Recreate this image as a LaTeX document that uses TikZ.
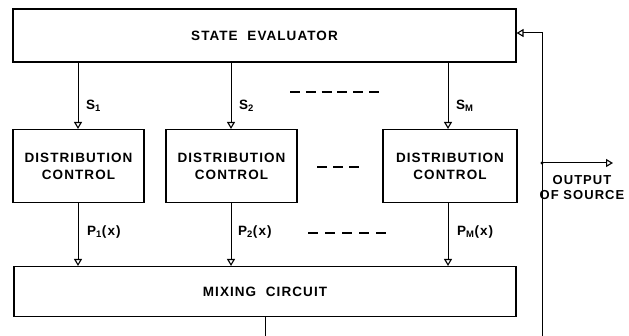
\documentclass[tikz,border=0pt]{standalone}
\usepackage{fontspec}
\newfontfamily\lett{Liberation Sans}[LetterSpace=8]
\usetikzlibrary{arrows.meta}
\tikzset{
  blk/.style={draw, line width=1.1pt, inner sep=0pt, align=center},
  sig/.style={line width=1pt, -{Triangle[open, length=7pt, width=8pt, line width=1.1pt]}},
  wire/.style={line width=1pt},
  lbl/.style={anchor=west, inner sep=0pt},
  dsh/.style={line width=1.1pt},
}
\begin{document}
\begin{tikzpicture}[x=1pt, y=-1pt, font=\lett\bfseries\fontsize{13.5}{17}\selectfont]
\useasboundingbox (0,0) rectangle (629,336);
% blocks
\node[blk, minimum width=503pt, minimum height=53pt] (se) at (264.5,35.5) {STATE\ \ EVALUATOR};
\node[blk, minimum width=131pt, minimum height=73pt] (dc1) at (78.5,166) {DISTRIBUTION\\CONTROL};
\node[blk, minimum width=131pt, minimum height=73pt] (dc2) at (231.5,166) {DISTRIBUTION\\CONTROL};
\node[blk, minimum width=134pt, minimum height=73pt] (dc3) at (450,166) {DISTRIBUTION\\CONTROL};
\node[blk, minimum width=502pt, minimum height=50pt] (mix) at (265,291.5) {MIXING\ \ CIRCUIT};
% line positions
\coordinate (s1) at (78,0);
\coordinate (s2) at (231,0);
\coordinate (s3) at (448,0);
% state signals
\draw[sig] (se.south -| s1) -- (dc1.north -| s1);
\draw[sig] (se.south -| s2) -- (dc2.north -| s2);
\draw[sig] (se.south -| s3) -- (dc3.north -| s3);
% distribution outputs
\draw[sig] (dc1.south -| s1) -- (mix.north -| s1);
\draw[sig] (dc2.south -| s2) -- (mix.north -| s2);
\draw[sig] (dc3.south -| s3) -- (mix.north -| s3);
% labels
\node[lbl] (ls1) at (86,106) {S\textsubscript{1}};
\node[lbl] (ls2) at (239,106) {S\textsubscript{2}};
\node[lbl] (ls3) at (456,106) {S\textsubscript{M}};
\node[lbl] (lp1) at (87,232) {P\textsubscript{1}(x)};
\node[lbl] (lp2) at (238,232) {P\textsubscript{2}(x)};
\node[lbl] (lp3) at (457,232) {P\textsubscript{M}(x)};
% dashes
\draw[dsh, dash pattern=on 10pt off 5.8pt] (290,92) -- (379,92);
\draw[dsh, dash pattern=on 10pt off 6pt] (317,167) -- (359,167);
\draw[dsh, dash pattern=on 10pt off 7pt] (308,233) -- (386,233);
% mixing output and feedback
\coordinate (mo) at (265,336);
\draw[wire] (mix.south) -- (mo);
\coordinate (fb) at (542,336);
\coordinate (jn) at (542,163);
\coordinate (out) at (613,163);
\draw[sig] (fb) |- ([yshift=2.5pt]se.east);
\draw[sig] (jn) -- (out);
\fill (jn) circle (1.6pt);
\node[align=center, inner sep=0pt, font=\lett\bfseries\fontsize{13}{15}\selectfont] (os) at (582,188) {OUTPUT\\OF SOURCE};
\end{tikzpicture}
\end{document}
